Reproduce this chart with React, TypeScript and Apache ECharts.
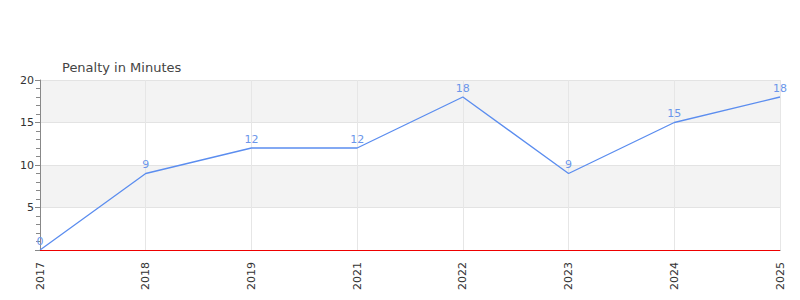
import React, { useEffect, useRef } from "react";
import * as echarts from "echarts";

const years = ["2017", "2018", "2019", "2021", "2022", "2023", "2024", "2025"];
const penaltyMinutes = [0, 9, 12, 12, 18, 9, 15, 18];
const yTicks = { min: 0, max: 20, interval: 5 };

export default function App() {
  const ref = useRef<HTMLDivElement>(null);
  useEffect(() => {
    if (!ref.current) return;
    const chart = echarts.init(ref.current, undefined, { renderer: "svg" });
    chart.setOption({
      animation: false,
      textStyle: { fontFamily: "DejaVu Sans" },
      title: {
        text: "Penalty in Minutes",
        left: 57,
        top: 56,
        textStyle: { fontSize: 13, fontWeight: "normal", color: "#444", fontFamily: "DejaVu Sans" },
      },
      grid: { left: 40, right: 20, top: 80, bottom: 50 },
      xAxis: {
        type: "category",
        data: years,
        boundaryGap: false,
        offset: 1,
        axisLine: { lineStyle: { color: "#555", width: 1 } },
        axisTick: { show: false },
        splitLine: { show: true, lineStyle: { color: "#e6e6e6" } },
        axisLabel: { rotate: 90, color: "#333", fontSize: 11, margin: 11 },
      },
      yAxis: {
        type: "value",
        min: yTicks.min,
        max: yTicks.max,
        interval: yTicks.interval,
        axisLine: { show: true, lineStyle: { color: "#888" } },
        axisTick: { show: true, length: 5, lineStyle: { color: "#888" } },
        minorTick: { show: true, splitNumber: 5, length: 4, lineStyle: { color: "#888" } },
        splitLine: { show: true, lineStyle: { color: "#e3e3e3" } },
        splitArea: { show: true, areaStyle: { color: ["rgba(255,255,255,0)", "#f3f3f3"] } },
        axisLabel: { showMinLabel: false, color: "#333", fontSize: 11, margin: 6 },
      },
      series: [
        {
          type: "line",
          data: penaltyMinutes,
          showSymbol: true,
          symbol: "circle",
          symbolSize: 1,
          lineStyle: { color: "#5b8def", width: 1.3 },
          itemStyle: { color: "transparent" },
          label: { show: true, position: "top", color: "#6b96ea", fontSize: 11, distance: 3 },
          markLine: {
            silent: true,
            symbol: "none",
            label: { show: false },
            lineStyle: { color: "#e00", width: 1, type: "solid" },
            data: [{ yAxis: 0 }],
          },
        },
      ],
    });
    return () => chart.dispose();
  }, []);
  return <div ref={ref} style={{ width: 800, height: 300, position: "absolute", left: 0, top: 0 }} />;
}
